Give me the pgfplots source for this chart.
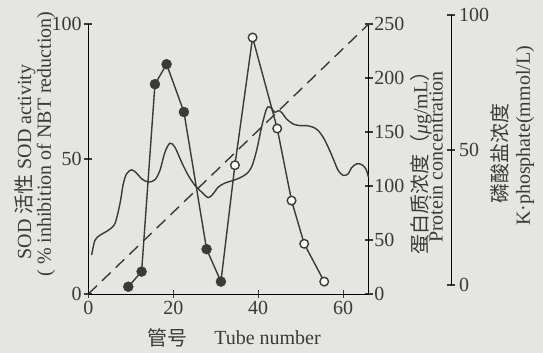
\documentclass[border=0pt]{standalone}
\usepackage{pgfplots}
\pgfplotsset{compat=1.18}
\usepackage{fontspec}
\setmainfont{Liberation Serif}
\newfontfamily\cjk{Noto Sans CJK SC}
\definecolor{bg}{HTML}{E5E5E1}
\definecolor{ink}{HTML}{3A3A3A}

\begin{document}
\begin{tikzpicture}[font=\fontsize{20}{22}\selectfont, text=ink]
\fill[bg] (-88.3pt,-59pt) rectangle (454.7pt,294pt);
\pgfplotsset{
 common/.style={scale only axis, width=280.4pt, height=270pt, xmin=0, xmax=66,
   tick align=inside, major tick length=8pt, tick style={ink, line width=1.3pt},
   tick label style={font=\fontsize{20}{22}\selectfont, text=ink},
   /pgf/number format/assume math mode=true, clip=false},
 noarrow/.style={
   axis line style={ink, line width=1.4pt, -},
   every outer x axis line/.style={-},
   every outer y axis line/.style={-},
   every inner x axis line/.style={-},
   every inner y axis line/.style={-},
   x axis line style={-}, y axis line style={-}}
}
% protein concentration axis
\begin{axis}[common, axis x line=none, axis y line=right, noarrow, ymin=0, ymax=250,
  ytick={0,50,100,150,200,250}, yticklabel style={inner sep=1.5pt}, xtick=\empty]
\addplot[ink, line width=1.4pt, dash pattern=on 12pt off 7pt] coordinates {(0,0) (66,250)};
\addplot[ink, line width=1.4pt, smooth] coordinates {
(0.78,36.0) (1.57,49.8) (2.75,54.4) (4.71,59.0) (6.27,65.2) (7.45,83.6) (8.24,102.1)
(9.02,111.3) (10.2,115.0) (11.37,111.9) (12.55,106.7) (14.12,103.6) (15.69,105.8)
(16.86,114.4) (18.04,131.3) (19.22,139.6) (20.39,135.9) (21.96,122.1) (23.53,109.8)
(25.10,100.6) (26.67,94.4) (28.24,89.2) (29.41,92.9) (30.59,99.0) (32.16,102.7)
(34.12,105.2) (35.69,107.6) (37.25,111.3) (38.43,117.5) (39.61,132.8) (40.78,154.4)
(41.80,169.7) (42.35,173.4) (43.14,171.9) (43.92,168.2) (44.71,169.7) (45.49,168.2)
(46.67,162.1) (48.24,157.4) (49.80,155.9) (51.37,155.9) (52.94,154.4) (54.12,151.3)
(55.29,145.1) (56.47,135.9) (57.65,125.2) (58.82,114.4) (60.0,109.8) (61.18,111.3)
(61.96,116.9) (63.14,120.5) (64.31,119.9) (65.33,115.9) (65.96,108.2)};
\end{axis}
% SOD activity axis
\begin{axis}[common, axis x line=bottom, axis y line=left, noarrow, ymin=0, ymax=100,
  xtick={0,20,40,60}, ytick={0,50,100}, yticklabel style={inner sep=2.5pt},
  xticklabel style={inner sep=3pt}]
\addplot[ink, line width=1.4pt] coordinates {
(9.41,2.7) (12.55,8.3) (15.69,77.7) (18.43,85.1) (22.51,67.4) (27.84,16.6) (31.22,4.6)
(34.51,47.7) (38.67,95.0) (44.47,61.3) (47.84,34.6) (50.82,18.6) (55.53,4.6)};
\addplot[only marks, mark=*, mark size=5pt, mark options={fill=ink, draw=ink}] coordinates {
(9.41,2.7) (12.55,8.3) (15.69,77.7) (18.43,85.1) (22.51,67.4) (27.84,16.6) (31.22,4.6)};
\addplot[only marks, mark=*, mark size=4.3pt, mark options={fill=white, draw=ink, line width=1.4pt}] coordinates {
(34.51,47.7) (38.67,95.0) (44.47,61.3) (47.84,34.6) (50.82,18.6) (55.53,4.6)};
\end{axis}
% phosphate axis
\begin{axis}[common, at={(82.3pt,9pt)}, axis x line=none, axis y line=right, noarrow, ymin=0, ymax=100,
  ytick={0,50,100}, xtick=\empty, yticklabel style={inner sep=4pt}]
\addplot[draw=none] coordinates {(0,0)};
\end{axis}
\node[rotate=90] at (-63.3pt,132pt) {SOD {\cjk 活性} SOD activity};
\node[rotate=90] at (-42.3pt,150pt) {( \% inhibition of NBT reduction)};
\node[rotate=90] at (332.7pt,136pt) {{\cjk 蛋白质浓度（}\textit{μ}g/mL{\cjk ）}};
\node[rotate=90] at (347.7pt,137pt) {Protein concentration};
\node[rotate=90] at (411.7pt,140pt) {\cjk 磷酸盐浓度};
\node[rotate=90] at (436.7pt,158pt) {K·phosphate(mmol/L)};
\node at (78.7pt,-44pt) {\cjk 管号};
\node at (179.2pt,-44pt) {Tube number};
\pgfresetboundingbox
\path[use as bounding box] (-88.3pt,-59pt) rectangle (454.7pt,294pt);
\end{tikzpicture}
\end{document}
